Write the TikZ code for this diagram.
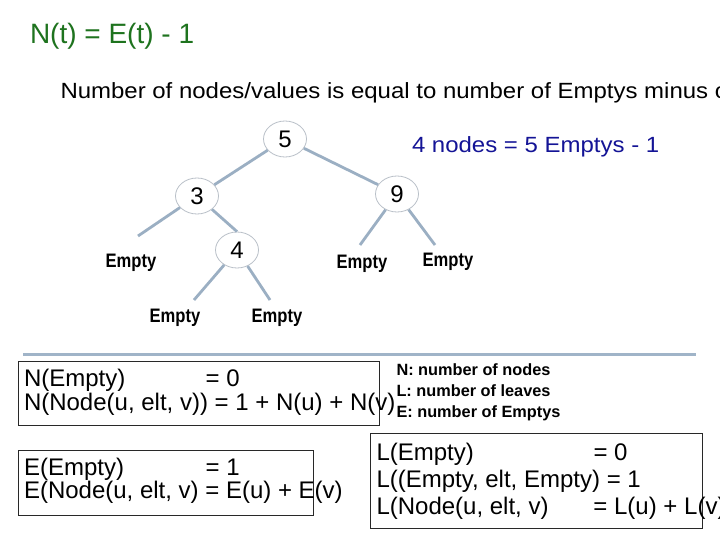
\documentclass[tikz,border=0pt]{standalone}
\usepackage{fontspec}
\setmainfont{Liberation Sans}
\newfontfamily\wideF[FakeStretch=1.09]{Liberation Sans}
\newfontfamily\narrowF[FakeStretch=0.85]{Liberation Sans}
\usetikzlibrary{shapes.geometric}
\definecolor{titlegreen}{RGB}{30,115,30}
\definecolor{mynavy}{RGB}{20,20,150}
\definecolor{edgegray}{RGB}{155,175,195}
\definecolor{circgray}{RGB}{185,192,200}
\definecolor{rulegray}{RGB}{160,180,200}
\definecolor{boxgray}{RGB}{40,40,40}
\begin{document}
\begin{tikzpicture}[x=1pt,y=-1pt,
  txt/.style={inner sep=0pt, outer sep=0pt, anchor=base west},
  val/.style={ellipse, draw=circgray, line width=0.8pt, minimum width=43pt,
    minimum height=36pt, inner sep=0pt, font=\fontsize{24}{28}\selectfont},
  leaf/.style={inner sep=0pt, anchor=base, font=\narrowF\bfseries\fontsize{19.5}{22}\selectfont},
  edge/.style={draw=edgegray, line width=2.8pt},
  frm/.style={txt, font=\fontsize{24}{28}\selectfont},
  leg/.style={txt, font=\bfseries\fontsize{16.3}{19}\selectfont},
  boxline/.style={draw=boxgray, line width=1pt}]
\useasboundingbox (0,0) rectangle (720,540);
\fill[white] (0,0) rectangle (720,540);
\begin{scope}
\clip (0,0) rectangle (720,540);
% title lines
\node[txt, font=\fontsize{28}{32}\selectfont, text=titlegreen] (title) at (30,43.3) {N(t) = E(t) - 1};
\node[txt, font=\wideF\fontsize{22}{26}\selectfont] (sub) at (60.5,98.3) {Number of nodes/values is equal to number of Emptys minus one};
\node[txt, font=\wideF\fontsize{22}{26}\selectfont, text=mynavy] (blue) at (412,152.3) {4 nodes = 5 Emptys - 1};
% tree
\node[val] (n5) at (285,139) {5};
\node[val] (n3) at (197,196) {3};
\node[val] (n9) at (397,194) {9};
\node[val] (n4) at (237,250) {4};
\coordinate (c1) at (138,236);
\coordinate (c2) at (194,300);
\coordinate (c3) at (270,300);
\coordinate (c4) at (360,245);
\coordinate (c5) at (435,245);
\draw[edge] (n5) -- (n3);
\draw[edge] (n5) -- (n9);
\draw[edge] (n3) -- (n4.north);
\draw[edge] (n3) -- (c1);
\draw[edge] (n4) -- (c2);
\draw[edge] (n4) -- (c3);
\draw[edge] (n9) -- (c4);
\draw[edge] (n9) -- (c5);
\node[leaf] (l1) at (131,267.7) {Empty};
\node[leaf] (l2) at (175,322) {Empty};
\node[leaf] (l3) at (277,322) {Empty};
\node[leaf] (l4) at (362,268) {Empty};
\node[leaf] (l5) at (448,266.5) {Empty};
% rule
\draw[rulegray, line width=3pt] (23,354) -- (696,354);
% N box
\draw[boxline] (18,361) rectangle (379,425);
\node[frm] (na) at (24,386.7) {\makebox[181.7pt][l]{N(Empty)}= 0};
\node[frm] (nb) at (24,410) {N(Node(u, elt, v)) = 1 + N(u) + N(v)};
% legend
\node[leg] (g1) at (396.5,375.7) {N: number of nodes};
\node[leg] (g2) at (396.5,396.7) {L: number of leaves};
\node[leg] (g3) at (396.5,417.7) {E: number of Emptys};
% E box
\draw[boxline] (18,450) rectangle (313,515);
\node[frm] (ea) at (24,475) {\makebox[181.7pt][l]{E(Empty)}= 1};
\node[frm] (eb) at (24,498.3) {E(Node(u, elt, v) = E(u) + E(v)};
% L box
\draw[boxline] (370,433) rectangle (702,528);
\node[frm] (la) at (376.5,460) {\makebox[217pt][l]{L(Empty)}= 0};
\node[frm] (lb) at (376.5,487) {L((Empty, elt, Empty) = 1};
\node[frm] (lc) at (376.5,514) {\makebox[217pt][l]{L(Node(u, elt, v)}= L(u) + L(v)};
\end{scope}
\end{tikzpicture}
\end{document}
